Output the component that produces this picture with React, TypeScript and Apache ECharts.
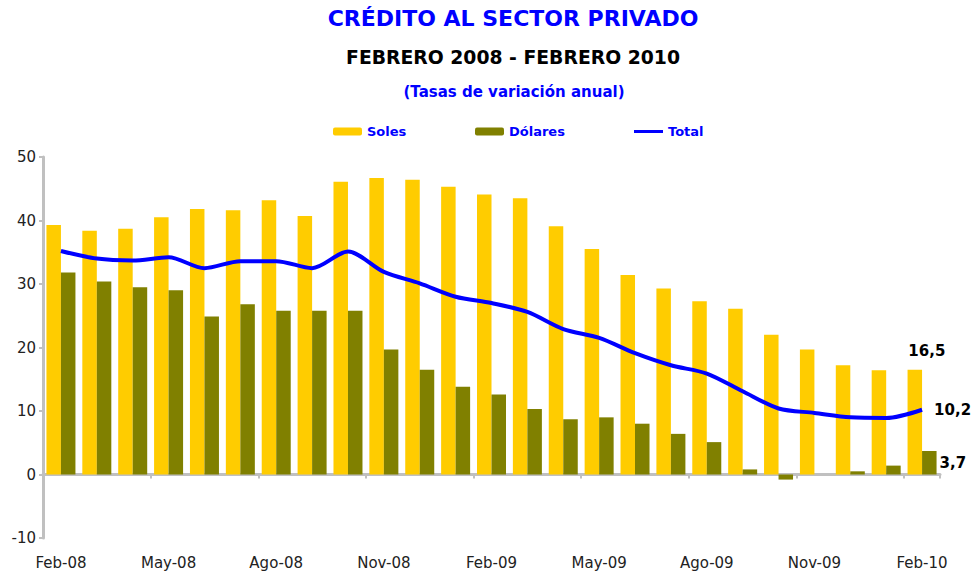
import React, { useEffect, useRef } from "react";
import * as echarts from "echarts";

const months = [
  "Feb-08", "Mar-08", "Abr-08", "May-08", "Jun-08", "Jul-08", "Ago-08", "Set-08", "Oct-08",
  "Nov-08", "Dic-08", "Ene-09", "Feb-09", "Mar-09", "Abr-09", "May-09", "Jun-09", "Jul-09",
  "Ago-09", "Set-09", "Oct-09", "Nov-09", "Dic-09", "Ene-10", "Feb-10",
];
const soles = [
  39.3, 38.4, 38.7, 40.5, 41.8, 41.6, 43.2, 40.7, 46.1, 46.7, 46.4, 45.3, 44.1,
  43.5, 39.1, 35.5, 31.4, 29.3, 27.3, 26.1, 22.0, 19.7, 17.2, 16.4, 16.5,
];
const dolares = [
  31.8, 30.4, 29.5, 29.0, 24.9, 26.8, 25.8, 25.8, 25.8, 19.7, 16.5, 13.8, 12.6,
  10.3, 8.7, 9.0, 8.0, 6.4, 5.1, 0.8, -0.8, 0.0, 0.5, 1.4, 3.7,
];
const total = [
  35.2, 34.0, 33.7, 34.2, 32.5, 33.6, 33.6, 32.5, 35.1, 31.9, 30.1, 28.0, 27.0,
  25.6, 22.9, 21.5, 19.1, 17.2, 15.9, 13.1, 10.4, 9.7, 9.0, 8.9, 10.2,
];
const yTicks = { min: -10, max: 50, interval: 10 };

const FONT = "'DejaVu Sans', Verdana, sans-serif";
const BLUE = "#0000ff";
const fmt = (v: number) => v.toFixed(1).replace(".", ",");

export default function App() {
  const ref = useRef<HTMLDivElement>(null);
  useEffect(() => {
    if (!ref.current) return;
    const chart = echarts.init(ref.current, undefined, { renderer: "svg" });
    const last = months.length - 1;
    const labelStyle = { fontFamily: FONT, fontWeight: "bold" as const, fontSize: 15, color: "#000" };
    const legendText = { color: BLUE, fontWeight: "bold" as const, fontSize: 13, fontFamily: FONT };
    chart.setOption({
      animation: false,
      backgroundColor: "#ffffff",
      textStyle: { fontFamily: FONT },
      graphic: [
        { type: "text", x: 513, y: 7, style: { text: "CRÉDITO AL SECTOR PRIVADO", fill: BLUE, font: `bold 22px ${FONT}`, textAlign: "center" } },
        { type: "text", x: 513, y: 48, style: { text: "FEBRERO 2008 - FEBRERO 2010", fill: "#000", font: `bold 18.8px ${FONT}`, textAlign: "center" } },
        { type: "text", x: 514, y: 84, style: { text: "(Tasas de variación anual)", fill: BLUE, font: `bold 15px ${FONT}`, textAlign: "center" } },
      ],
      legend: [
        { data: ["Soles"], left: 333, top: 125, padding: 0, itemWidth: 29, itemHeight: 8, textStyle: legendText },
        { data: ["Dólares"], left: 475, top: 125, padding: 0, itemWidth: 29, itemHeight: 8, textStyle: legendText },
        { data: [{ name: "Total", icon: "rect" }], left: 634, top: 125, padding: 0, itemWidth: 29, itemHeight: 3, textStyle: legendText },
      ],
      grid: { left: 43, right: 35, top: 157, bottom: 36, containLabel: false },
      xAxis: [
        {
          type: "category",
          data: months,
          axisLine: { onZero: true, lineStyle: { color: "#c0c0c0", width: 3 } },
          axisTick: { show: true, interval: 2, length: 4, lineStyle: { color: "#c0c0c0", width: 2 } },
          axisLabel: { show: false },
        },
        {
          type: "category",
          data: months,
          position: "bottom",
          axisLine: { show: false, onZero: false },
          axisTick: { show: false },
          axisLabel: { interval: 2, margin: 17, fontSize: 15, color: "#222", fontFamily: FONT },
        },
      ],
      yAxis: {
        type: "value",
        min: yTicks.min,
        max: yTicks.max,
        interval: yTicks.interval,
        splitLine: { show: false },
        axisLine: { show: true, lineStyle: { color: "#c0c0c0", width: 3 } },
        axisTick: { show: true, length: 4, lineStyle: { color: "#c0c0c0", width: 2 } },
        axisLabel: { fontSize: 15, color: "#222", fontFamily: FONT, margin: 7 },
      },
      series: [
        {
          name: "Soles",
          type: "bar",
          xAxisIndex: 0,
          barWidth: 14.5,
          barGap: "0%",
          itemStyle: { color: "#ffcc00" },
          data: soles.map((v, i) =>
            i === last
              ? { value: v, label: { show: true, position: "top", offset: [12, -6], formatter: () => fmt(v), ...labelStyle } }
              : v
          ),
        },
        {
          name: "Dólares",
          type: "bar",
          xAxisIndex: 0,
          barWidth: 14.5,
          barGap: "0%",
          itemStyle: { color: "#808000" },
          data: dolares.map((v, i) =>
            i === last
              ? { value: v, label: { show: true, position: "right", distance: 3, formatter: () => fmt(v), ...labelStyle } }
              : v
          ),
        },
        {
          name: "Total",
          type: "line",
          xAxisIndex: 0,
          smooth: 0.3,
          symbol: "none",
          showSymbol: false,
          lineStyle: { color: BLUE, width: 4 },
          itemStyle: { color: BLUE },
          endLabel: { show: true, distance: 12, formatter: (p: any) => fmt(p.value), ...labelStyle },
          data: total,
        },
      ],
    });
    return () => chart.dispose();
  }, []);
  return <div ref={ref} style={{ position: "fixed", left: 0, top: 0, width: 975, height: 574 }} />;
}
